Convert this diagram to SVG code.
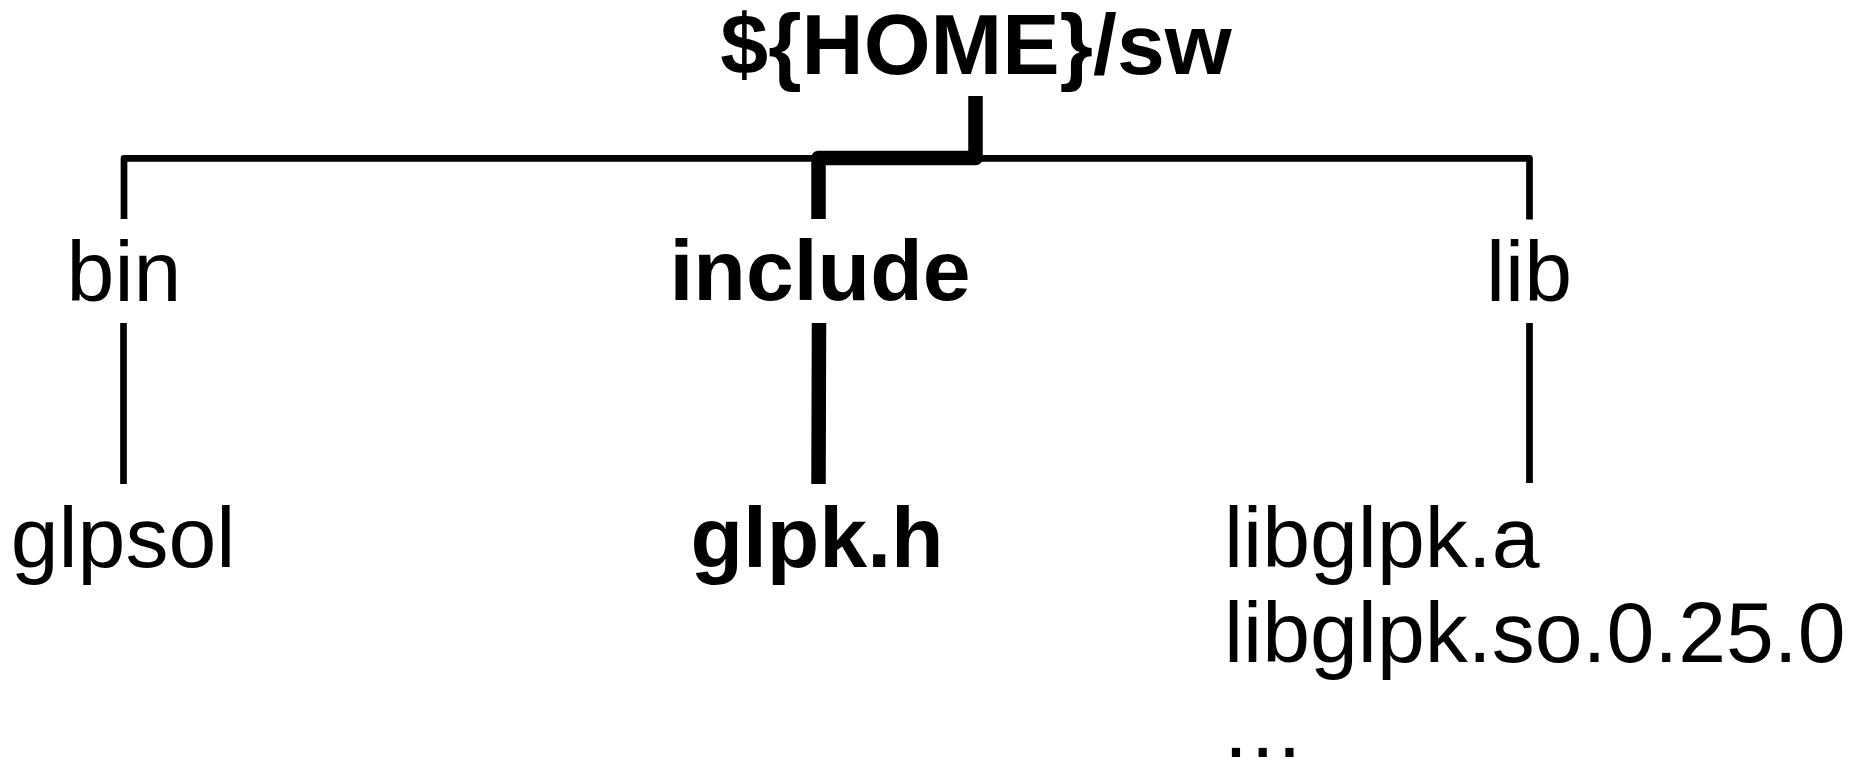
<svg xmlns="http://www.w3.org/2000/svg" width="1851" height="763" viewBox="0 0 1851 763">
<style>
text{font-family:"Liberation Sans",Arial,sans-serif;font-size:86px;fill:#000}
.b{font-weight:bold}
.c{text-anchor:middle}
.thin{fill:none;stroke:#000;stroke-width:6.7;stroke-linejoin:round;stroke-linecap:butt}
.thick{fill:none;stroke:#000;stroke-width:14.5;stroke-linejoin:round;stroke-linecap:butt}
</style>
<rect width="1851" height="763" fill="#fff"/>
<g id="connectors">
<path class="thin" d="M124 219 L124 158.3 L1529.5 158.3 L1529.5 219.5"/>
<path class="thin" d="M123.5 323 L123.5 484"/>
<path class="thin" d="M1529.5 323 L1529.5 483"/>
<path class="thick" d="M975.5 96 L975.5 158 L818.5 158 L818.5 219"/>
<path class="thick" d="M819 323 L818.5 484"/>
</g>
<g id="root"><text class="b c" x="976" y="74">${HOME}/sw</text></g>
<g id="bin"><text class="c" x="124" y="301">bin</text></g>
<g id="include"><text class="b c" x="820" y="300">include</text></g>
<g id="lib"><text class="c" x="1529" y="301">lib</text></g>
<g id="glpsol"><text class="c" x="123" y="567">glpsol</text></g>
<g id="glpk_h"><text class="b c" x="817" y="567">glpk.h</text></g>
<g id="libfiles">
<text x="1224" y="567">libglpk.a</text>
<text x="1224" y="662">libglpk.so.0.25.0</text>
<text x="1224" y="757" letter-spacing="2.8">...</text>
</g>
</svg>
